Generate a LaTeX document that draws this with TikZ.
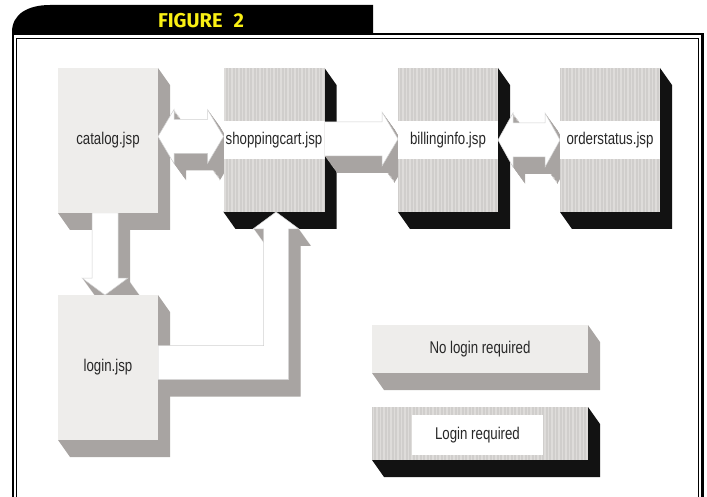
\documentclass[tikz,border=0pt]{standalone}
\usepackage{fontspec}
\setmainfont{Liberation Sans}
\newfontfamily\boxfont[FakeStretch=0.78]{Liberation Sans}
\newfontfamily\headfont{Fira Sans}
\usetikzlibrary{calc}
\pgfdeclarelayer{depth}
\pgfdeclarelayer{links}
\pgfsetlayers{depth,links,main}

\definecolor{facelight}{RGB}{238,237,235}
\definecolor{sidegray}{RGB}{168,164,162}
\definecolor{ribbase}{RGB}{208,206,204}
\definecolor{riblight}{RGB}{222,220,218}
\definecolor{sideblack}{RGB}{18,18,18}
\definecolor{inkgray}{RGB}{40,40,40}
\definecolor{headyellow}{RGB}{250,240,20}

% extruded block arrow: gray depth swept down-right, white top face
\newcommand\slab[1]{%
  \foreach \t in {1,...,17}{\fill[sidegray, transform canvas={shift={(0.72*\t,\t)}}] #1;}
  \filldraw[fill=white, draw=black!18, line width=0.5pt] #1;}

\begin{document}
\begin{tikzpicture}[x=1pt,y=-1pt,
  boxface/.style={inner sep=0pt, outer sep=0pt,
    font=\boxfont\fontsize{17}{17}\selectfont, text=inkgray},
  nologin/.style={boxface, fill=facelight},
  ribbed/.style={fill=ribbase, path picture={
      \foreach \k in {0,...,62}
        \draw[riblight, line width=1.1pt]
          ([xshift=\k*3.5pt+1.5pt]path picture bounding box.north west) --
          ([xshift=\k*3.5pt+1.5pt]path picture bounding box.south west);
      #1}},
  loginreq/.style={boxface, ribbed={\fill[white]
      ([yshift=19pt]path picture bounding box.west) rectangle
      ([yshift=-19pt]path picture bounding box.east);}},
  legendreq/.style={boxface, ribbed={}},
  tall/.style={minimum width=100pt, minimum height=144pt}]

\useasboundingbox (0,0) rectangle (707,497);

% page frame and title tab
\draw[line width=2.2pt] (13,498) -- (13,34) -- (702.5,34) -- (702.5,498);
\draw[line width=1pt] (16.5,498) -- (16.5,38.5) -- (698.8,38.5) -- (698.8,498);
\fill[black] (12,35) -- (12,32) .. controls (12,14) and (28,5) .. (50,5)
  -- (373,5) -- (373,35) -- cycle;
\node[font=\headfont\bfseries\fontsize{20}{20}\selectfont, text=headyellow,
  inner sep=0pt] (title) at (201,21) {FIGURE\hspace{11pt}2};

% pages
\node[nologin, tall, minimum height=145pt] (cat) at (108,140.5) {catalog.jsp};
\node[loginreq, tall, minimum width=101pt] (cart) at (274,140) {shoppingcart.jsp};
\node[loginreq, tall] (bill) at (448,140) {billinginfo.jsp};
\node[loginreq, tall] (order) at (610,140) {orderstatus.jsp};
\node[nologin, tall, minimum height=145pt] (login) at (108,367.5) {login.jsp};

% legend
\node[nologin, minimum width=216pt, minimum height=48pt] (free) at (480,349) {No login required};
\node[legendreq, minimum width=216pt, minimum height=53pt] (secure) at (480,433.5) {};
\node[boxface, fill=white, minimum width=131pt, minimum height=40pt] (securelbl)
  at (477.5,435) {Login required};

% block depth
\begin{pgfonlayer}{depth}
  \foreach \n/\c in {cat/sidegray, login/sidegray, free/sidegray,
      cart/sideblack, bill/sideblack, order/sideblack, secure/sideblack}
    \fill[\c] (\n.north east) -- ($(\n.north east)+(12,17)$)
      -- ($(\n.south east)+(12,17)$) -- ($(\n.south west)+(12,17)$)
      -- (\n.south west) -- cycle;
\end{pgfonlayer}

% navigation arrows
\begin{pgfonlayer}{links}
  % catalog <-> shoppingcart
  \coordinate (aL) at ($(cat.east)+(0,-4)$);
  \coordinate (aR) at (aL -| cart.west);
  \slab{(aL) -- ++(16,-27) -- ++(0,10) -- ($(aR)+(-16,-17)$) -- ++(0,-10) -- (aR)
    -- ++(-16,27) -- ++(0,-10) -- ($(aL)+(16,17)$) -- ++(0,10) -- cycle}
  % shoppingcart -> billinginfo
  \coordinate (bL) at ($(cart.east)+(0,-1)$);
  \coordinate (bR) at (bL -| bill.west);
  \slab{($(bL)+(0,-17)$) -- ($(bR)+(-16,-17)$) -- ++(0,-10) -- (bR)
    -- ++(-16,27) -- ++(0,-10) -- ($(bL)+(0,17)$) -- cycle}
  % billinginfo <-> orderstatus
  \coordinate (cL) at (bill.east);
  \coordinate (cR) at (cL -| order.west);
  \slab{(cL) -- ++(15,-27) -- ++(0,10) -- ($(cR)+(-15,-17)$) -- ++(0,-10) -- (cR)
    -- ++(-15,27) -- ++(0,-10) -- ($(cL)+(15,17)$) -- ++(0,10) -- cycle}
  % catalog -> login
  \coordinate (dA) at ($(cat.south)+(-3,0)$);
  \coordinate (dT) at ($(login.north)+(-3,0)$);
  \slab{($(dA)+(-13,0)$) -- ($(dT)+(-13,-17)$) -- ($(dT)+(-23,-17)$) -- (dT)
    -- ($(dT)+(23,-17)$) -- ($(dT)+(13,-17)$) -- ($(dA)+(13,0)$) -- cycle}
  % login -> shoppingcart
  \coordinate (lA) at ($(login.east)+(0,-5)$);
  \coordinate (lT) at ($(cart.south)+(2,0)$);
  \coordinate (lC) at (lT |- lA);
  \slab{($(lA)+(0,-17)$) -- ($(lC)+(-12.5,-17)$) -- ($(lT)+(-12.5,17)$)
    -- ($(lT)+(-23,17)$) -- (lT) -- ($(lT)+(23,17)$) -- ($(lT)+(12.5,17)$)
    -- ($(lC)+(12.5,17)$) -- ($(lA)+(0,17)$) -- cycle}
\end{pgfonlayer}
\end{tikzpicture}
\end{document}
